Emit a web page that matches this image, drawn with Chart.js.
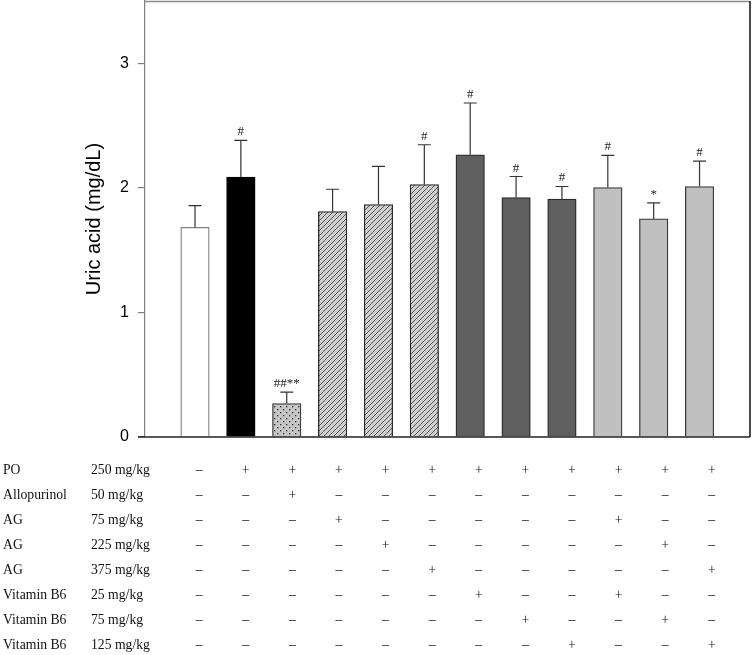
<!DOCTYPE html>
<html>
<head>
<meta charset="utf-8">
<script src="https://cdn.jsdelivr.net/npm/chart.js@4/dist/chart.umd.min.js"></script>
<style>
  html, body { margin: 0; padding: 0; background: #fff; }
  #wrap { position: relative; width: 753px; height: 655px; }
</style>
</head>
<body>
<div id="wrap"><canvas id="c"></canvas></div>
<script>
// ---- data ----
const groupIndex = [1, 2, 3, 4, 5, 6, 7, 8, 9, 10, 11, 12];
const meanValues = [1.683, 2.086, 0.268, 1.810, 1.866, 2.027, 2.266, 1.922, 1.909, 2.003, 1.751, 2.011];
const errorValues = [0.175, 0.295, 0.092, 0.179, 0.306, 0.319, 0.415, 0.169, 0.102, 0.257, 0.128, 0.203];
const significance = ['', '#', '##**', '', '', '#', '#', '#', '#', '#', '*', '#'];
const yTicks = [0, 1, 2, 3];
const yTitle = 'Uric acid (mg/dL)';
const rowNames = ['PO', 'Allopurinol', 'AG', 'AG', 'AG', 'Vitamin B6', 'Vitamin B6', 'Vitamin B6'];
const rowDoses = ['250 mg/kg', '50 mg/kg', '75 mg/kg', '225 mg/kg', '375 mg/kg', '25 mg/kg', '75 mg/kg', '125 mg/kg'];
const rowSigns = [
  '-+++++++++++',
  '--+---------',
  '---+-----+--',
  '----+-----+-',
  '-----+-----+',
  '------+--+--',
  '-------+--+-',
  '--------+--+'
];

// ---- styles ----
function makePattern(size, draw) {
  const c = document.createElement('canvas');
  c.width = size; c.height = size;
  const g = c.getContext('2d');
  draw(g, size);
  return g.createPattern(c, 'repeat');
}
const hatch = makePattern(5, (g, s) => {
  g.fillStyle = '#cfcfcf'; g.fillRect(0, 0, s, s);
  g.strokeStyle = '#4a4a4a'; g.lineWidth = 0.9;
  g.beginPath();
  g.moveTo(-1, s + 1); g.lineTo(s + 1, -1);
  g.moveTo(-1, 1); g.lineTo(1, -1);
  g.moveTo(s - 1, s + 1); g.lineTo(s + 1, s - 1);
  g.stroke();
});
const dots = makePattern(6, (g, s) => {
  g.fillStyle = '#c6c6c6'; g.fillRect(0, 0, s, s);
  g.fillStyle = '#2e2e2e';
  g.fillRect(1, 1, 1.3, 1.3);
  g.fillRect(4, 4, 1.3, 1.3);
});
const fills = ['#ffffff', '#000000', dots, hatch, hatch, hatch,
  '#5f5f5f', '#5f5f5f', '#5f5f5f', '#c0c0c0', '#c0c0c0', '#c0c0c0'];
const borders = ['#808080', '#000000', '#3a3a3a', '#2a2a2a', '#2a2a2a', '#2a2a2a',
  '#2a2a2a', '#2a2a2a', '#2a2a2a', '#3a3a3a', '#3a3a3a', '#3a3a3a'];

const serif = '"Liberation Serif", "Times New Roman", serif';
const sans = '"Liberation Sans", Arial, sans-serif';

const extrasPlugin = {
  id: 'extras',
  afterDatasetsDraw(chart) {
    const ctx = chart.ctx;
    const xs = chart.scales.x, ys = chart.scales.y;
    const ca = chart.chartArea;
    ctx.save();
    // error bars + significance marks
    groupIndex.forEach((gx, i) => {
      const px = xs.getPixelForValue(gx);
      const yTop = ys.getPixelForValue(meanValues[i]);
      const yCap = ys.getPixelForValue(meanValues[i] + errorValues[i]);
      ctx.strokeStyle = '#333';
      ctx.lineWidth = 1.2;
      ctx.beginPath();
      ctx.moveTo(px, yTop); ctx.lineTo(px, yCap);
      ctx.moveTo(px - 6.5, yCap); ctx.lineTo(px + 6.5, yCap);
      ctx.stroke();
      if (significance[i]) {
        ctx.fillStyle = '#222';
        ctx.font = '13px ' + serif;
        ctx.textAlign = 'center';
        ctx.textBaseline = 'alphabetic';
        ctx.fillText(significance[i], px, yCap - 5);
      }
    });
    // frame
    ctx.lineWidth = 1.5;
    ctx.strokeStyle = '#8a8a8a';
    ctx.beginPath(); ctx.moveTo(ca.left, ca.top + 0.5); ctx.lineTo(ca.right, ca.top + 0.5); ctx.stroke();
    ctx.strokeStyle = '#111';
    ctx.beginPath(); ctx.moveTo(ca.right, ca.top); ctx.lineTo(ca.right, ca.bottom); ctx.stroke();
    ctx.strokeStyle = '#222';
    ctx.beginPath(); ctx.moveTo(ca.left - 7, ca.bottom); ctx.lineTo(ca.right, ca.bottom); ctx.stroke();

    // treatment table
    ctx.fillStyle = '#111';
    ctx.font = '13.7px ' + serif;
    ctx.textBaseline = 'middle';
    rowNames.forEach((name, r) => {
      const y = 470.7 + 25 * r;
      ctx.textAlign = 'left';
      ctx.fillText(name, 3, y);
      ctx.fillText(rowDoses[r], 91, y);
      ctx.textAlign = 'center';
      for (let k = 0; k < rowSigns[r].length; k++) {
        const colX = xs.getPixelForValue(1.09 + 1.016 * k);
        const ch = rowSigns[r][k] === '+' ? '+' : '\u2013';
        ctx.fillText(ch, colX, y);
      }
    });
    ctx.restore();
  }
};

new Chart(document.getElementById('c'), {
  type: 'bar',
  data: {
    datasets: [{
      data: groupIndex.map((g, i) => ({ x: g, y: meanValues[i] })),
      backgroundColor: fills,
      borderColor: borders,
      borderWidth: 1.3,
      barThickness: 28.5
    }]
  },
  plugins: [extrasPlugin],
  options: {
    responsive: true,
    maintainAspectRatio: false,
    animation: false,
    layout: { padding: { left: 78, right: 3, top: 1, bottom: 218 } },
    plugins: { legend: { display: false }, tooltip: { enabled: false } },
    scales: {
      x: {
        type: 'linear',
        min: -0.09,
        max: 13.1,
        offset: false,
        display: false
      },
      y: {
        min: 0,
        max: 3.5,
        afterFit(scale) {
          scale.width = 67;
          scale.paddingTop = 0;
          scale.paddingBottom = 0;
        },
        afterBuildTicks(scale) { scale.ticks = yTicks.map(v => ({ value: v })); },
        ticks: {
          stepSize: 1,
          includeBounds: false,
          padding: 9,
          color: '#000',
          font: { family: sans, size: 16 }
        },
        grid: {
          drawOnChartArea: false,
          drawTicks: true,
          tickLength: 7,
          color: '#7f7f7f',
          lineWidth: 1.2
        },
        border: { display: true, color: '#7f7f7f', width: 1.2 },
        title: {
          display: true,
          text: yTitle,
          color: '#000',
          font: { family: sans, size: 20 },
          padding: { top: 4, bottom: 4 }
        }
      }
    }
  }
});
</script>
</body>
</html>
